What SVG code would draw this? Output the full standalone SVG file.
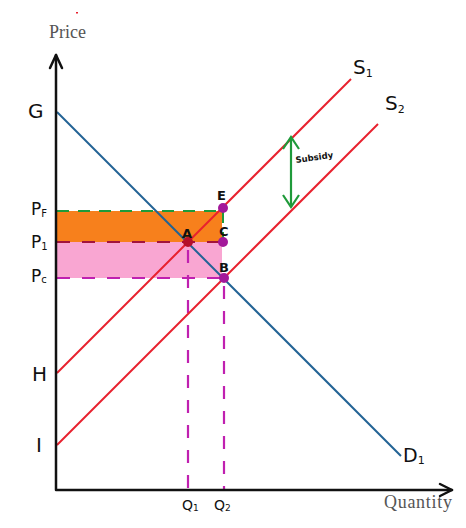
<svg xmlns="http://www.w3.org/2000/svg" width="466" height="528" viewBox="0 0 466 528">
<style>
.ax{stroke:#111;stroke-width:2.5;fill:none;stroke-linecap:round;stroke-linejoin:round}
.sup{stroke:#e8212e;stroke-width:2;fill:none}
.dem{stroke:#236395;stroke-width:2;fill:none}
.gd{stroke:#1f9a3a;stroke-width:2;stroke-dasharray:12 9;fill:none}
.md{stroke:#c020b0;stroke-width:2.2;stroke-dasharray:13 12;fill:none}
.rd{stroke:#a3143c;stroke-width:2.2;stroke-dasharray:13 12;fill:none}
.hand{font-family:"DejaVu Sans","Liberation Sans",sans-serif;fill:#111}
.lab{font-family:"Liberation Serif",serif;fill:#555;font-size:18px}
</style>
<rect width="466" height="528" fill="#fff"/>
<rect x="76" y="12" width="2" height="1.5" fill="#e8212e"/>
<g id="areas">
<rect x="57" y="211" width="165" height="31" fill="#f7801c"/>
<rect x="57" y="242" width="165" height="36" fill="#f9a6d2"/>
</g>
<g id="connectors">
<line class="gd" x1="57" y1="211" x2="222" y2="211"/>
<line class="gd" x1="223" y1="211" x2="223" y2="242" stroke-dasharray="6 5"/>
<line class="rd" x1="57" y1="242" x2="222" y2="242"/>
<line class="md" x1="57" y1="278" x2="222" y2="278"/>
<line class="md" x1="188" y1="250" x2="188" y2="488"/>
<line class="md" x1="224" y1="286" x2="224" y2="490"/>
</g>
<g id="demand">
<line class="dem" x1="57" y1="112" x2="401" y2="456"/>
<text class="hand" x="403" y="462" font-size="19">D<tspan font-size="11" dy="2">1</tspan></text>
</g>
<g id="s1">
<line class="sup" x1="57" y1="373" x2="351" y2="79"/>
<text class="hand" x="353" y="74" font-size="20">S<tspan font-size="11" dy="3">1</tspan></text>
</g>
<g id="s2">
<line class="sup" x1="57" y1="445" x2="378" y2="124"/>
<text class="hand" x="385" y="110" font-size="20">S<tspan font-size="11" dy="3">2</tspan></text>
</g>
<g id="axes">
<polyline class="ax" points="56,55 56,490 452,490"/>
<polyline class="ax" points="50,68 56,55 62,68"/>
<polyline class="ax" points="440,484 452,490 440,496"/>
<text class="lab" x="49" y="38">Price</text>
<text class="lab" x="384" y="508" textLength="68">Quantity</text>
</g>
<g id="subsidy">
<line x1="291" y1="137" x2="291" y2="207" stroke="#1f9a3a" stroke-width="2.2"/>
<polyline points="283,149 291,137 299,149" stroke="#1f9a3a" stroke-width="2.2" fill="none"/>
<polyline points="283,195 291,207 299,195" stroke="#1f9a3a" stroke-width="2.2" fill="none"/>
<text class="hand" x="296" y="163" font-size="8.5" font-weight="bold" transform="rotate(-8 296 163)">Subsidy</text>
</g>
<g id="points">
<circle cx="188" cy="242" r="5" fill="#b5102a"/>
<circle cx="223" cy="208" r="5" fill="#a3189a"/>
<circle cx="223" cy="242" r="5" fill="#a3189a"/>
<circle cx="224" cy="278" r="5" fill="#a3189a"/>
<text class="hand" x="182" y="238" font-size="13" font-weight="bold">A</text>
<text class="hand" x="217" y="200" font-size="13" font-weight="bold">E</text>
<text class="hand" x="219" y="236" font-size="13" font-weight="bold">C</text>
<text class="hand" x="219" y="272" font-size="13" font-weight="bold">B</text>
</g>
<g id="ylabels">
<text class="hand" x="28" y="118" font-size="20">G</text>
<text class="hand" x="31" y="215" font-size="17">P<tspan font-size="10" dy="2">F</tspan></text>
<text class="hand" x="31" y="248" font-size="17">P<tspan font-size="10" dy="2">1</tspan></text>
<text class="hand" x="31" y="282" font-size="17">P<tspan font-size="10" dy="1">c</tspan></text>
<text class="hand" x="32" y="381" font-size="20">H</text>
<text class="hand" x="36" y="452" font-size="20">I</text>
</g>
<g id="xlabels">
<text class="hand" x="182" y="510" font-size="14">Q<tspan font-size="9" dy="1">1</tspan></text>
<text class="hand" x="214" y="510" font-size="14">Q<tspan font-size="9" dy="1">2</tspan></text>
</g>
</svg>
